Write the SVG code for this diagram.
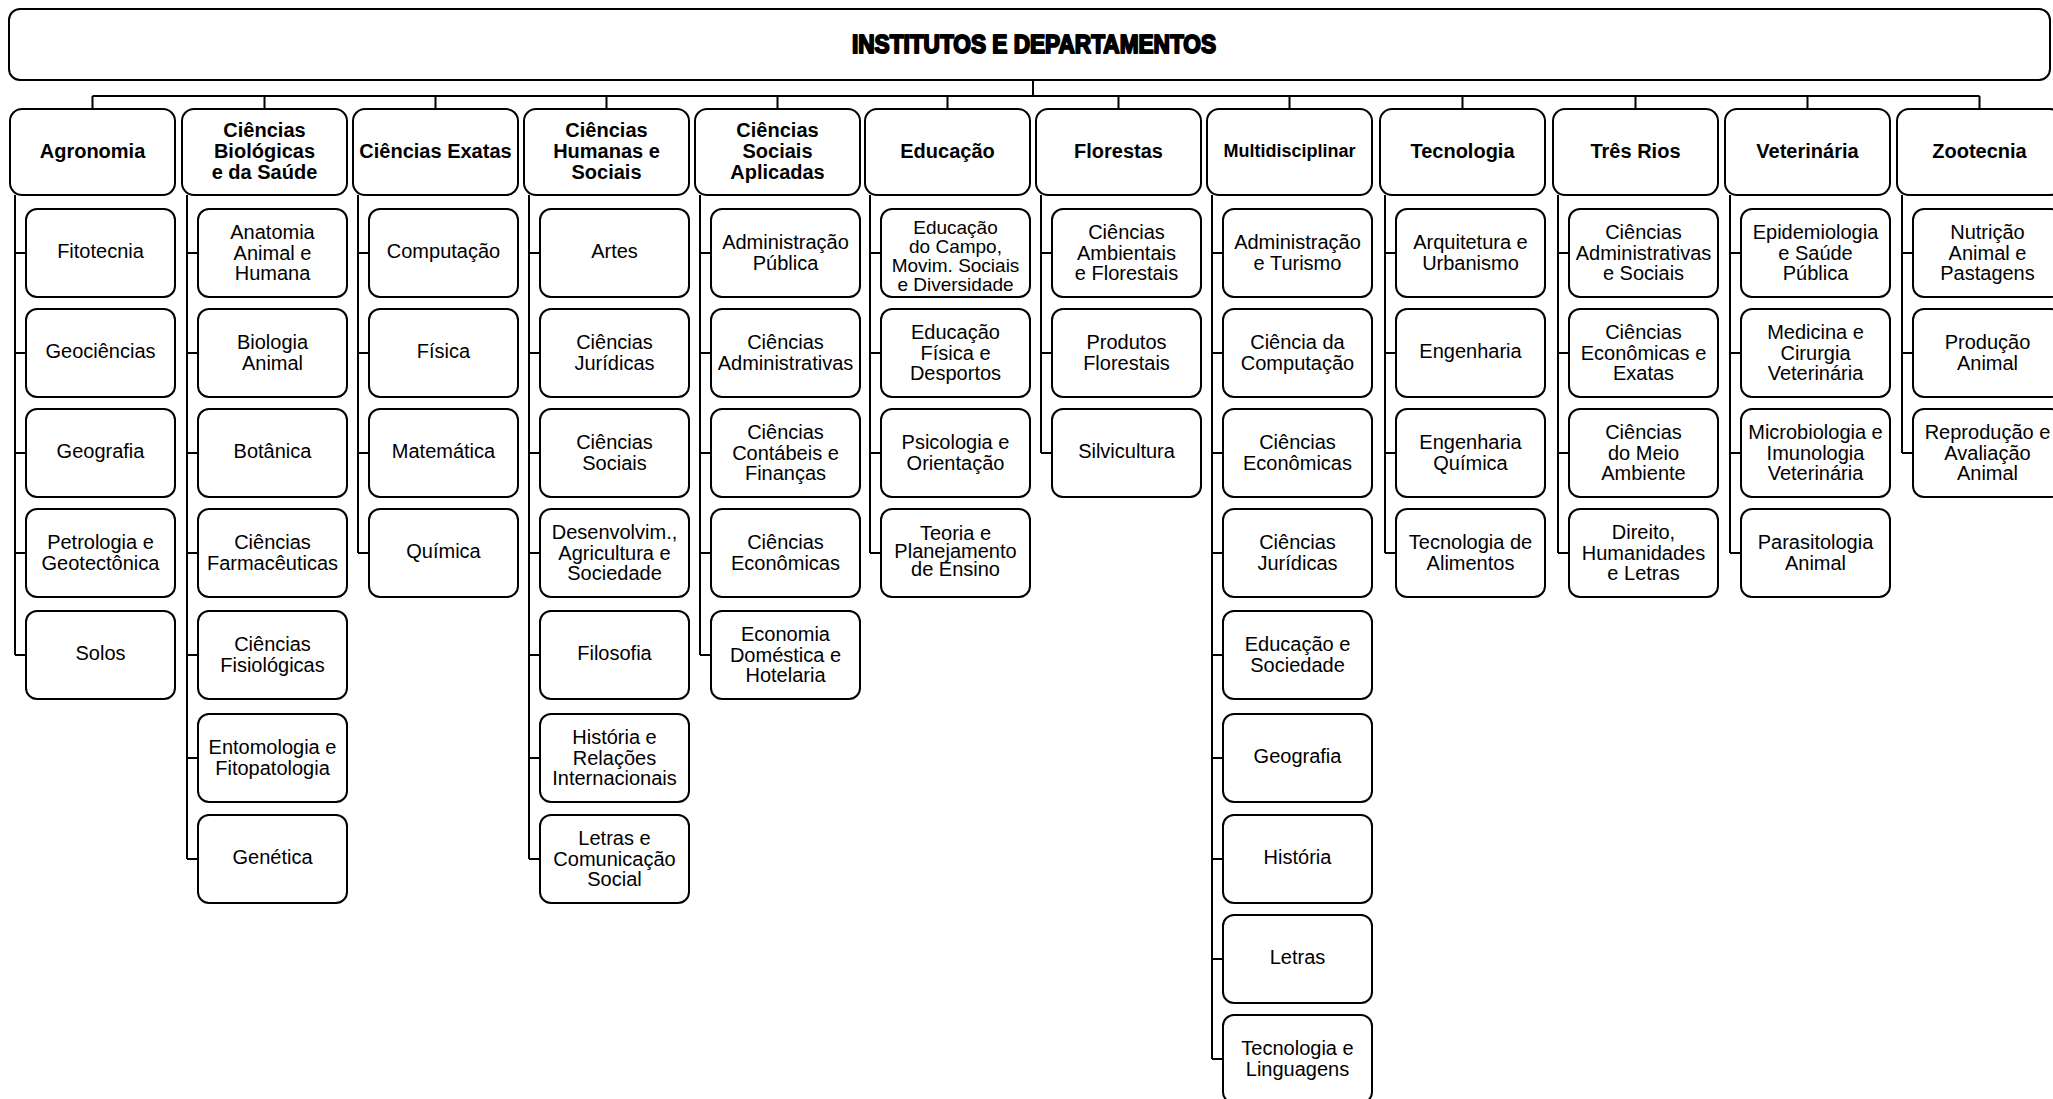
<svg xmlns="http://www.w3.org/2000/svg" width="2053" height="1099" viewBox="0 0 2053 1099">
<style>
rect{fill:#fff;stroke:#000;stroke-width:2}
.c path{fill:none;stroke:#000;stroke-width:2}
text{font-family:"Liberation Sans",Arial,sans-serif;text-anchor:middle;fill:#000}
.h{font-size:20px;font-weight:bold}
.t{font-size:20px}
.ttl{font-size:25px;font-weight:bold;stroke:#000;stroke-width:1.9;stroke-linejoin:round}
</style>
<rect width="2053" height="1099" style="fill:#fff;stroke:none"/>
<g id="root"><rect x="9" y="9" width="2041" height="71" rx="11"/><text class="ttl" x="1034" y="53" textLength="364" lengthAdjust="spacingAndGlyphs">INSTITUTOS E DEPARTAMENTOS</text></g>
<g class="c" id="connectors">
<path d="M1033,80V96M92.5,96H1979.5M92.5,96V109M264.5,96V109M435.5,96V109M606.5,96V109M777.5,96V109M947.5,96V109M1118.5,96V109M1289.5,96V109M1462.5,96V109M1635.5,96V109M1807.5,96V109M1979.5,96V109"/>
<path d="M15,195V655M15,253H26M15,353H26M15,453H26M15,553H26M15,655H26"/>
<path d="M187,195V859M187,253H198M187,353H198M187,453H198M187,553H198M187,655H198M187,758H198M187,859H198"/>
<path d="M358,195V553M358,253H369M358,353H369M358,453H369M358,553H369"/>
<path d="M529,195V859M529,253H540M529,353H540M529,453H540M529,553H540M529,655H540M529,758H540M529,859H540"/>
<path d="M700,195V655M700,253H711M700,353H711M700,453H711M700,553H711M700,655H711"/>
<path d="M870,195V553M870,253H881M870,353H881M870,453H881M870,553H881"/>
<path d="M1041,195V453M1041,253H1052M1041,353H1052M1041,453H1052"/>
<path d="M1212,195V1059M1212,253H1223M1212,353H1223M1212,453H1223M1212,553H1223M1212,655H1223M1212,758H1223M1212,859H1223M1212,959H1223M1212,1059H1223"/>
<path d="M1385,195V553M1385,253H1396M1385,353H1396M1385,453H1396M1385,553H1396"/>
<path d="M1558,195V553M1558,253H1569M1558,353H1569M1558,453H1569M1558,553H1569"/>
<path d="M1730,195V553M1730,253H1741M1730,353H1741M1730,453H1741M1730,553H1741"/>
<path d="M1902,195V453M1902,253H1913M1902,353H1913M1902,453H1913"/>
</g>
<!-- headers -->
<g id="h-agronomia"><rect x="10" y="109" width="165" height="86" rx="12"/><text class="h" x="92.5" y="158">Agronomia</text></g>
<g id="h-biologicas"><rect x="182" y="109" width="165" height="86" rx="12"/><text class="h"><tspan x="264.5" y="137">Ciências</tspan><tspan x="264.5" y="158">Biológicas</tspan><tspan x="264.5" y="179">e da Saúde</tspan></text></g>
<g id="h-exatas"><rect x="353" y="109" width="165" height="86" rx="12"/><text class="h" x="435.5" y="158">Ciências Exatas</text></g>
<g id="h-humanas"><rect x="524" y="109" width="165" height="86" rx="12"/><text class="h"><tspan x="606.5" y="137">Ciências</tspan><tspan x="606.5" y="158">Humanas e</tspan><tspan x="606.5" y="179">Sociais</tspan></text></g>
<g id="h-sociais"><rect x="695" y="109" width="165" height="86" rx="12"/><text class="h"><tspan x="777.5" y="137">Ciências</tspan><tspan x="777.5" y="158">Sociais</tspan><tspan x="777.5" y="179">Aplicadas</tspan></text></g>
<g id="h-educacao"><rect x="865" y="109" width="165" height="86" rx="12"/><text class="h" x="947.5" y="158">Educação</text></g>
<g id="h-florestas"><rect x="1036" y="109" width="165" height="86" rx="12"/><text class="h" x="1118.5" y="158">Florestas</text></g>
<g id="h-multi"><rect x="1207" y="109" width="165" height="86" rx="12"/><text class="h" x="1289.5" y="157" style="font-size:18px">Multidisciplinar</text></g>
<g id="h-tecnologia"><rect x="1380" y="109" width="165" height="86" rx="12"/><text class="h" x="1462.5" y="158">Tecnologia</text></g>
<g id="h-tresrios"><rect x="1553" y="109" width="165" height="86" rx="12"/><text class="h" x="1635.5" y="158">Três Rios</text></g>
<g id="h-veterinaria"><rect x="1725" y="109" width="165" height="86" rx="12"/><text class="h" x="1807.5" y="158">Veterinária</text></g>
<g id="h-zootecnia"><rect x="1897" y="109" width="165" height="86" rx="12"/><text class="h" x="1979.5" y="158">Zootecnia</text></g>
<!-- Agronomia -->
<g id="agr-1"><rect x="26" y="209" width="149" height="88" rx="11"/><text class="t" x="100.5" y="258">Fitotecnia</text></g>
<g id="agr-2"><rect x="26" y="309" width="149" height="88" rx="11"/><text class="t" x="100.5" y="358">Geociências</text></g>
<g id="agr-3"><rect x="26" y="409" width="149" height="88" rx="11"/><text class="t" x="100.5" y="458">Geografia</text></g>
<g id="agr-4"><rect x="26" y="509" width="149" height="88" rx="11"/><text class="t"><tspan x="100.5" y="549">Petrologia e</tspan><tspan x="100.5" y="569.5">Geotectônica</tspan></text></g>
<g id="agr-5"><rect x="26" y="611" width="149" height="88" rx="11"/><text class="t" x="100.5" y="660">Solos</text></g>
<!-- Biologicas -->
<g id="bio-1"><rect x="198" y="209" width="149" height="88" rx="11"/><text class="t"><tspan x="272.5" y="239">Anatomia</tspan><tspan x="272.5" y="259.5">Animal e</tspan><tspan x="272.5" y="280">Humana</tspan></text></g>
<g id="bio-2"><rect x="198" y="309" width="149" height="88" rx="11"/><text class="t"><tspan x="272.5" y="349">Biologia</tspan><tspan x="272.5" y="369.5">Animal</tspan></text></g>
<g id="bio-3"><rect x="198" y="409" width="149" height="88" rx="11"/><text class="t" x="272.5" y="458">Botânica</text></g>
<g id="bio-4"><rect x="198" y="509" width="149" height="88" rx="11"/><text class="t"><tspan x="272.5" y="549">Ciências</tspan><tspan x="272.5" y="569.5">Farmacêuticas</tspan></text></g>
<g id="bio-5"><rect x="198" y="611" width="149" height="88" rx="11"/><text class="t"><tspan x="272.5" y="651">Ciências</tspan><tspan x="272.5" y="671.5">Fisiológicas</tspan></text></g>
<g id="bio-6"><rect x="198" y="714" width="149" height="88" rx="11"/><text class="t"><tspan x="272.5" y="754">Entomologia e</tspan><tspan x="272.5" y="774.5">Fitopatologia</tspan></text></g>
<g id="bio-7"><rect x="198" y="815" width="149" height="88" rx="11"/><text class="t" x="272.5" y="864">Genética</text></g>
<!-- Exatas -->
<g id="exa-1"><rect x="369" y="209" width="149" height="88" rx="11"/><text class="t" x="443.5" y="258">Computação</text></g>
<g id="exa-2"><rect x="369" y="309" width="149" height="88" rx="11"/><text class="t" x="443.5" y="358">Física</text></g>
<g id="exa-3"><rect x="369" y="409" width="149" height="88" rx="11"/><text class="t" x="443.5" y="458">Matemática</text></g>
<g id="exa-4"><rect x="369" y="509" width="149" height="88" rx="11"/><text class="t" x="443.5" y="558">Química</text></g>
<!-- Humanas -->
<g id="hum-1"><rect x="540" y="209" width="149" height="88" rx="11"/><text class="t" x="614.5" y="258">Artes</text></g>
<g id="hum-2"><rect x="540" y="309" width="149" height="88" rx="11"/><text class="t"><tspan x="614.5" y="349">Ciências</tspan><tspan x="614.5" y="369.5">Jurídicas</tspan></text></g>
<g id="hum-3"><rect x="540" y="409" width="149" height="88" rx="11"/><text class="t"><tspan x="614.5" y="449">Ciências</tspan><tspan x="614.5" y="469.5">Sociais</tspan></text></g>
<g id="hum-4"><rect x="540" y="509" width="149" height="88" rx="11"/><text class="t"><tspan x="614.5" y="539">Desenvolvim.,</tspan><tspan x="614.5" y="559.5">Agricultura e</tspan><tspan x="614.5" y="580">Sociedade</tspan></text></g>
<g id="hum-5"><rect x="540" y="611" width="149" height="88" rx="11"/><text class="t" x="614.5" y="660">Filosofia</text></g>
<g id="hum-6"><rect x="540" y="714" width="149" height="88" rx="11"/><text class="t"><tspan x="614.5" y="744">História e</tspan><tspan x="614.5" y="764.5">Relações</tspan><tspan x="614.5" y="785">Internacionais</tspan></text></g>
<g id="hum-7"><rect x="540" y="815" width="149" height="88" rx="11"/><text class="t"><tspan x="614.5" y="845">Letras e</tspan><tspan x="614.5" y="865.5">Comunicação</tspan><tspan x="614.5" y="886">Social</tspan></text></g>
<!-- Sociais Aplicadas -->
<g id="soc-1"><rect x="711" y="209" width="149" height="88" rx="11"/><text class="t"><tspan x="785.5" y="249">Administração</tspan><tspan x="785.5" y="269.5">Pública</tspan></text></g>
<g id="soc-2"><rect x="711" y="309" width="149" height="88" rx="11"/><text class="t"><tspan x="785.5" y="349">Ciências</tspan><tspan x="785.5" y="369.5">Administrativas</tspan></text></g>
<g id="soc-3"><rect x="711" y="409" width="149" height="88" rx="11"/><text class="t"><tspan x="785.5" y="439">Ciências</tspan><tspan x="785.5" y="459.5">Contábeis e</tspan><tspan x="785.5" y="480">Finanças</tspan></text></g>
<g id="soc-4"><rect x="711" y="509" width="149" height="88" rx="11"/><text class="t"><tspan x="785.5" y="549">Ciências</tspan><tspan x="785.5" y="569.5">Econômicas</tspan></text></g>
<g id="soc-5"><rect x="711" y="611" width="149" height="88" rx="11"/><text class="t"><tspan x="785.5" y="641">Economia</tspan><tspan x="785.5" y="661.5">Doméstica e</tspan><tspan x="785.5" y="682">Hotelaria</tspan></text></g>
<!-- Educacao -->
<g id="edu-1"><rect x="881" y="209" width="149" height="88" rx="11"/><text class="t" style="font-size:19px"><tspan x="955.5" y="234">Educação</tspan><tspan x="955.5" y="253">do Campo,</tspan><tspan x="955.5" y="272">Movim. Sociais</tspan><tspan x="955.5" y="291">e Diversidade</tspan></text></g>
<g id="edu-2"><rect x="881" y="309" width="149" height="88" rx="11"/><text class="t"><tspan x="955.5" y="339">Educação</tspan><tspan x="955.5" y="359.5">Física e</tspan><tspan x="955.5" y="380">Desportos</tspan></text></g>
<g id="edu-3"><rect x="881" y="409" width="149" height="88" rx="11"/><text class="t"><tspan x="955.5" y="449">Psicologia e</tspan><tspan x="955.5" y="469.5">Orientação</tspan></text></g>
<g id="edu-4"><rect x="881" y="509" width="149" height="88" rx="11"/><text class="t"><tspan x="955.5" y="540">Teoria e</tspan><tspan x="955.5" y="558">Planejamento</tspan><tspan x="955.5" y="576">de Ensino</tspan></text></g>
<!-- Florestas -->
<g id="flo-1"><rect x="1052" y="209" width="149" height="88" rx="11"/><text class="t"><tspan x="1126.5" y="239">Ciências</tspan><tspan x="1126.5" y="259.5">Ambientais</tspan><tspan x="1126.5" y="280">e Florestais</tspan></text></g>
<g id="flo-2"><rect x="1052" y="309" width="149" height="88" rx="11"/><text class="t"><tspan x="1126.5" y="349">Produtos</tspan><tspan x="1126.5" y="369.5">Florestais</tspan></text></g>
<g id="flo-3"><rect x="1052" y="409" width="149" height="88" rx="11"/><text class="t" x="1126.5" y="458">Silvicultura</text></g>
<!-- Multidisciplinar -->
<g id="mul-1"><rect x="1223" y="209" width="149" height="88" rx="11"/><text class="t"><tspan x="1297.5" y="249">Administração</tspan><tspan x="1297.5" y="269.5">e Turismo</tspan></text></g>
<g id="mul-2"><rect x="1223" y="309" width="149" height="88" rx="11"/><text class="t"><tspan x="1297.5" y="349">Ciência da</tspan><tspan x="1297.5" y="369.5">Computação</tspan></text></g>
<g id="mul-3"><rect x="1223" y="409" width="149" height="88" rx="11"/><text class="t"><tspan x="1297.5" y="449">Ciências</tspan><tspan x="1297.5" y="469.5">Econômicas</tspan></text></g>
<g id="mul-4"><rect x="1223" y="509" width="149" height="88" rx="11"/><text class="t"><tspan x="1297.5" y="549">Ciências</tspan><tspan x="1297.5" y="569.5">Jurídicas</tspan></text></g>
<g id="mul-5"><rect x="1223" y="611" width="149" height="88" rx="11"/><text class="t"><tspan x="1297.5" y="651">Educação e</tspan><tspan x="1297.5" y="671.5">Sociedade</tspan></text></g>
<g id="mul-6"><rect x="1223" y="714" width="149" height="88" rx="11"/><text class="t" x="1297.5" y="763">Geografia</text></g>
<g id="mul-7"><rect x="1223" y="815" width="149" height="88" rx="11"/><text class="t" x="1297.5" y="864">História</text></g>
<g id="mul-8"><rect x="1223" y="915" width="149" height="88" rx="11"/><text class="t" x="1297.5" y="964">Letras</text></g>
<g id="mul-9"><rect x="1223" y="1015" width="149" height="88" rx="11"/><text class="t"><tspan x="1297.5" y="1055">Tecnologia e</tspan><tspan x="1297.5" y="1075.5">Linguagens</tspan></text></g>
<!-- Tecnologia -->
<g id="tec-1"><rect x="1396" y="209" width="149" height="88" rx="11"/><text class="t"><tspan x="1470.5" y="249">Arquitetura e</tspan><tspan x="1470.5" y="269.5">Urbanismo</tspan></text></g>
<g id="tec-2"><rect x="1396" y="309" width="149" height="88" rx="11"/><text class="t" x="1470.5" y="358">Engenharia</text></g>
<g id="tec-3"><rect x="1396" y="409" width="149" height="88" rx="11"/><text class="t"><tspan x="1470.5" y="449">Engenharia</tspan><tspan x="1470.5" y="469.5">Química</tspan></text></g>
<g id="tec-4"><rect x="1396" y="509" width="149" height="88" rx="11"/><text class="t"><tspan x="1470.5" y="549">Tecnologia de</tspan><tspan x="1470.5" y="569.5">Alimentos</tspan></text></g>
<!-- Tres Rios -->
<g id="tr-1"><rect x="1569" y="209" width="149" height="88" rx="11"/><text class="t"><tspan x="1643.5" y="239">Ciências</tspan><tspan x="1643.5" y="259.5">Administrativas</tspan><tspan x="1643.5" y="280">e Sociais</tspan></text></g>
<g id="tr-2"><rect x="1569" y="309" width="149" height="88" rx="11"/><text class="t"><tspan x="1643.5" y="339">Ciências</tspan><tspan x="1643.5" y="359.5">Econômicas e</tspan><tspan x="1643.5" y="380">Exatas</tspan></text></g>
<g id="tr-3"><rect x="1569" y="409" width="149" height="88" rx="11"/><text class="t"><tspan x="1643.5" y="439">Ciências</tspan><tspan x="1643.5" y="459.5">do Meio</tspan><tspan x="1643.5" y="480">Ambiente</tspan></text></g>
<g id="tr-4"><rect x="1569" y="509" width="149" height="88" rx="11"/><text class="t"><tspan x="1643.5" y="539">Direito,</tspan><tspan x="1643.5" y="559.5">Humanidades</tspan><tspan x="1643.5" y="580">e Letras</tspan></text></g>
<!-- Veterinaria -->
<g id="vet-1"><rect x="1741" y="209" width="149" height="88" rx="11"/><text class="t"><tspan x="1815.5" y="239">Epidemiologia</tspan><tspan x="1815.5" y="259.5">e Saúde</tspan><tspan x="1815.5" y="280">Pública</tspan></text></g>
<g id="vet-2"><rect x="1741" y="309" width="149" height="88" rx="11"/><text class="t"><tspan x="1815.5" y="339">Medicina e</tspan><tspan x="1815.5" y="359.5">Cirurgia</tspan><tspan x="1815.5" y="380">Veterinária</tspan></text></g>
<g id="vet-3"><rect x="1741" y="409" width="149" height="88" rx="11"/><text class="t"><tspan x="1815.5" y="439">Microbiologia e</tspan><tspan x="1815.5" y="459.5">Imunologia</tspan><tspan x="1815.5" y="480">Veterinária</tspan></text></g>
<g id="vet-4"><rect x="1741" y="509" width="149" height="88" rx="11"/><text class="t"><tspan x="1815.5" y="549">Parasitologia</tspan><tspan x="1815.5" y="569.5">Animal</tspan></text></g>
<!-- Zootecnia -->
<g id="zoo-1"><rect x="1913" y="209" width="149" height="88" rx="11"/><text class="t"><tspan x="1987.5" y="239">Nutrição</tspan><tspan x="1987.5" y="259.5">Animal e</tspan><tspan x="1987.5" y="280">Pastagens</tspan></text></g>
<g id="zoo-2"><rect x="1913" y="309" width="149" height="88" rx="11"/><text class="t"><tspan x="1987.5" y="349">Produção</tspan><tspan x="1987.5" y="369.5">Animal</tspan></text></g>
<g id="zoo-3"><rect x="1913" y="409" width="149" height="88" rx="11"/><text class="t"><tspan x="1987.5" y="439">Reprodução e</tspan><tspan x="1987.5" y="459.5">Avaliação</tspan><tspan x="1987.5" y="480">Animal</tspan></text></g>
</svg>
